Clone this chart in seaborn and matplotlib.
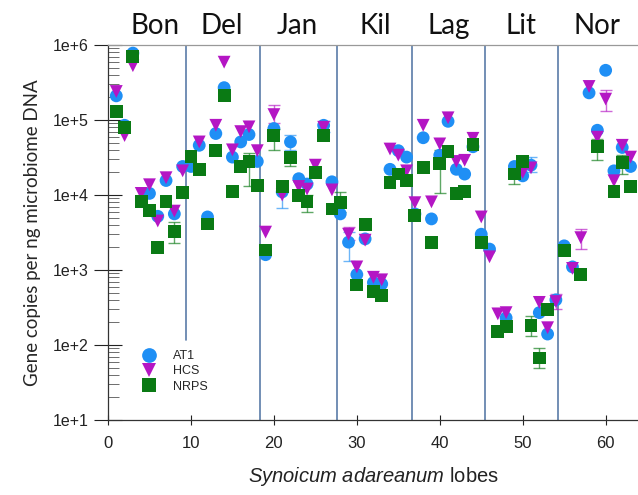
import numpy as np
import pandas as pd
import matplotlib
matplotlib.use("Agg")
import matplotlib.pyplot as plt
import seaborn as sns
from matplotlib.ticker import FuncFormatter, LogLocator, NullFormatter

nan = np.nan
lobes = list(range(1, 64))
at1 = [2.1e5, 8.5e4, 7.8e5, nan, 1.05e4, 5.2e3, 1.56e4, 5.6e3, 2.4e4, 2.4e4,
       4.6e4, 5.1e3, 6.6e4, 2.7e5, 3.2e4, 5.1e4, 6.4e4, 2.8e4, 1.6e3, 7.7e4,
       1.1e4, 5.1e4, 1.65e4, 1.4e4, nan, 8.5e4, 1.5e4, 5.6e3, 2.35e3, 870,
       2.6e3, 680, 650, 2.2e4, 3.9e4, 3.2e4, 5.6e3, 5.8e4, 4.8e3, 3.4e4,
       9.6e4, 2.2e4, 1.9e4, 4.4e4, 3.0e3, 1.9e3, nan, 230, 2.4e4, 1.8e4,
       2.5e4, 270, 140, 400, 2.1e3, 1.1e3, nan, 2.3e5, 7.3e4, 4.6e5,
       2.1e4, 4.3e4, 2.4e4]
hcs = [2.4e5, 6.2e4, 5.3e5, 1.05e4, 1.37e4, 4.5e3, 1.7e4, 6.1e3, 2.1e4, nan,
       5.1e4, nan, 8.5e4, 5.9e5, 4.0e4, 7.0e4, 8.1e4, 3.9e4, 3.2e3, 1.18e5,
       1.0e4, nan, 1.3e4, 1.2e4, 2.5e4, 8.0e4, 1.17e4, nan, 3.0e3, 1.1e3,
       2.5e3, 800, 740, 4.1e4, 3.4e4, 2.1e4, 7.9e3, 8.5e4, 8.1e3, 4.8e4,
       1.07e5, 2.8e4, 2.9e4, 5.7e4, 5.1e3, 1.5e3, 260, 270, nan, 2.0e4,
       2.3e4, 370, 170, 380, nan, 1.05e3, 2.7e3, 2.8e5, 5.9e4, 1.9e5,
       1.55e4, 4.6e4, 3.2e4]
nrps = [1.3e5, 8.0e4, 7.0e5, 8.1e3, 6.2e3, 2.0e3, 8.1e3, 3.3e3, 1.07e4, 3.3e4,
        2.2e4, 4.1e3, 3.9e4, 2.1e5, 1.1e4, 2.4e4, 2.8e4, 1.35e4, 1.85e3, 6.2e4,
        1.3e4, 3.2e4, 9.8e3, 8.1e3, 2.0e4, 6.2e4, 6.5e3, 7.9e3, nan, 630,
        4.0e3, 520, 460, 1.45e4, 1.9e4, 1.55e4, 5.3e3, 2.3e4, 2.3e3, 2.6e4,
        3.8e4, 1.05e4, 1.1e4, 4.7e4, 2.35e3, nan, 150, 175, 1.9e4, 2.8e4,
        180, 67, 300, nan, 1.8e3, nan, 870, nan, 4.4e4, nan,
        1.1e4, 2.7e4, 1.3e4]

# error bars: gene, lobe, low, high
err_gene = ["NRPS", "NRPS", "HCS", "NRPS", "AT1", "AT1", "NRPS", "NRPS", "AT1", "NRPS",
            "AT1", "HCS", "NRPS", "NRPS", "AT1", "NRPS", "NRPS", "HCS", "HCS", "NRPS",
            "HCS", "NRPS"]
err_lobe = [8, 17, 20, 20, 21, 22, 22, 24, 26, 28,
            29, 29, 40, 49, 51, 51, 52, 54, 57, 59,
            60, 62]
err_low = [2.3e3, 1.3e4, 9e4, 4.0e4, 6.7e3, 4.0e4, 2.4e4, 5.9e3, 7e4, 6e3,
           1.3e3, 2.5e3, 1.05e4, 1.4e4, 2.0e4, 130, 50, 300, 1.9e3, 2.9e4,
           1.3e5, 1.9e4]
err_high = [4.3e3, 3.6e4, 1.6e5, 7.5e4, 1.3e4, 6.4e4, 3.8e4, 1.0e4, 9.6e4, 1.1e4,
            3.2e3, 3.8e3, 4.0e4, 2.4e4, 3.2e4, 240, 92, 480, 3.5e3, 5.5e4,
            2.5e5, 3.4e4]

groups = ["Bon", "Del", "Jan", "Kil", "Lag", "Lit", "Nor"]
group_centers = [5.7, 13.7, 22.8, 32.2, 41.1, 49.8, 59.0]
separators = [9.4, 18.3, 27.6, 36.6, 45.4, 54.3]

genes = ["AT1", "HCS", "NRPS"]
colors = {"AT1": "#1f8ff5", "HCS": "#b416c4", "NRPS": "#0a7a14"}
markers = {"AT1": "o", "HCS": "v", "NRPS": "s"}

df = pd.DataFrame({
    "lobe": lobes * 3,
    "copies": at1 + hcs + nrps,
    "gene": ["AT1"] * len(lobes) + ["HCS"] * len(lobes) + ["NRPS"] * len(lobes),
}).dropna()

sns.set_style("white")
plt.rcParams["font.family"] = ["Liberation Sans", "DejaVu Sans"]
plt.rcParams["mathtext.fontset"] = "custom"
plt.rcParams["mathtext.it"] = "Liberation Sans:italic"
plt.rcParams["mathtext.rm"] = "Liberation Sans"

fig = plt.figure(figsize=(6.38, 4.95), dpi=100)
ax = fig.add_axes([108 / 638, 75 / 495, 1 - 108 / 638, 375 / 495])

for s in separators:
    ymin = 0.213 if s == separators[0] else 0.0
    ax.axvline(s, ymin=ymin, ymax=1, color="#5a7ca8", lw=1.2, zorder=1)

for g, xl, lo, hi in zip(err_gene, err_lobe, err_low, err_high):
    mid = np.sqrt(lo * hi)
    ax.errorbar([xl], [mid], yerr=[[mid - lo], [hi - mid]],
                fmt="none", ecolor=colors[g], elinewidth=1.0, capsize=4, capthick=1.0,
                alpha=0.65, zorder=2)

sns.scatterplot(data=df, x="lobe", y="copies", hue="gene", style="gene",
                hue_order=genes, style_order=genes, palette=colors, markers=markers,
                s=85, edgecolor="none", linewidth=0, ax=ax, zorder=3)

ax.set_yscale("log")
ax.set_ylim(10, 1e6)
ax.set_xlim(0, 63.9)
ax.set_xticks([0, 10, 20, 30, 40, 50, 60])
ax.yaxis.set_major_locator(LogLocator(base=10, numticks=10))
ax.yaxis.set_minor_locator(LogLocator(base=10, subs=np.arange(2, 10), numticks=20))
ax.yaxis.set_minor_formatter(NullFormatter())
ax.yaxis.set_major_formatter(FuncFormatter(lambda v, p: f"1e+{int(round(np.log10(v)))}"))
ax.tick_params(axis="y", which="major", direction="inout", length=20, width=0.8,
               labelsize=11.5, colors="#222222", left=True, pad=4)
ax.tick_params(axis="y", which="minor", direction="in", length=8, width=0.6, left=True,
               color="#555555")
ax.tick_params(axis="x", which="major", direction="inout", length=7, width=0.8,
               labelsize=12, colors="#222222", bottom=True, pad=8)

for side in ["left", "bottom", "top"]:
    ax.spines[side].set_color("#333333")
    ax.spines[side].set_linewidth(0.9)
ax.spines["top"].set_color("#999999")
ax.spines["right"].set_visible(False)

ax.set_ylabel("Gene copies per ng microbiome DNA", family=["Lato", "DejaVu Sans"],
              fontsize=13.5, labelpad=8)
ax.set_xlabel(r"$\it{Synoicum\ adareanum}$ lobes", fontsize=14.5, color="#222222", labelpad=10)

for name, xc in zip(groups, group_centers):
    ax.text(xc, 1.05, name, transform=ax.get_xaxis_transform(), ha="center", va="center",
            fontsize=20, family=["Lato", "DejaVu Sans"], color="#111111")

leg = ax.legend(loc="lower left", bbox_to_anchor=(0.045, 0.06), frameon=False,
                fontsize=9, labelspacing=0.25, handletextpad=0.9, borderaxespad=0,
                markerscale=1.15)

fig.savefig("out.png", dpi=100)
